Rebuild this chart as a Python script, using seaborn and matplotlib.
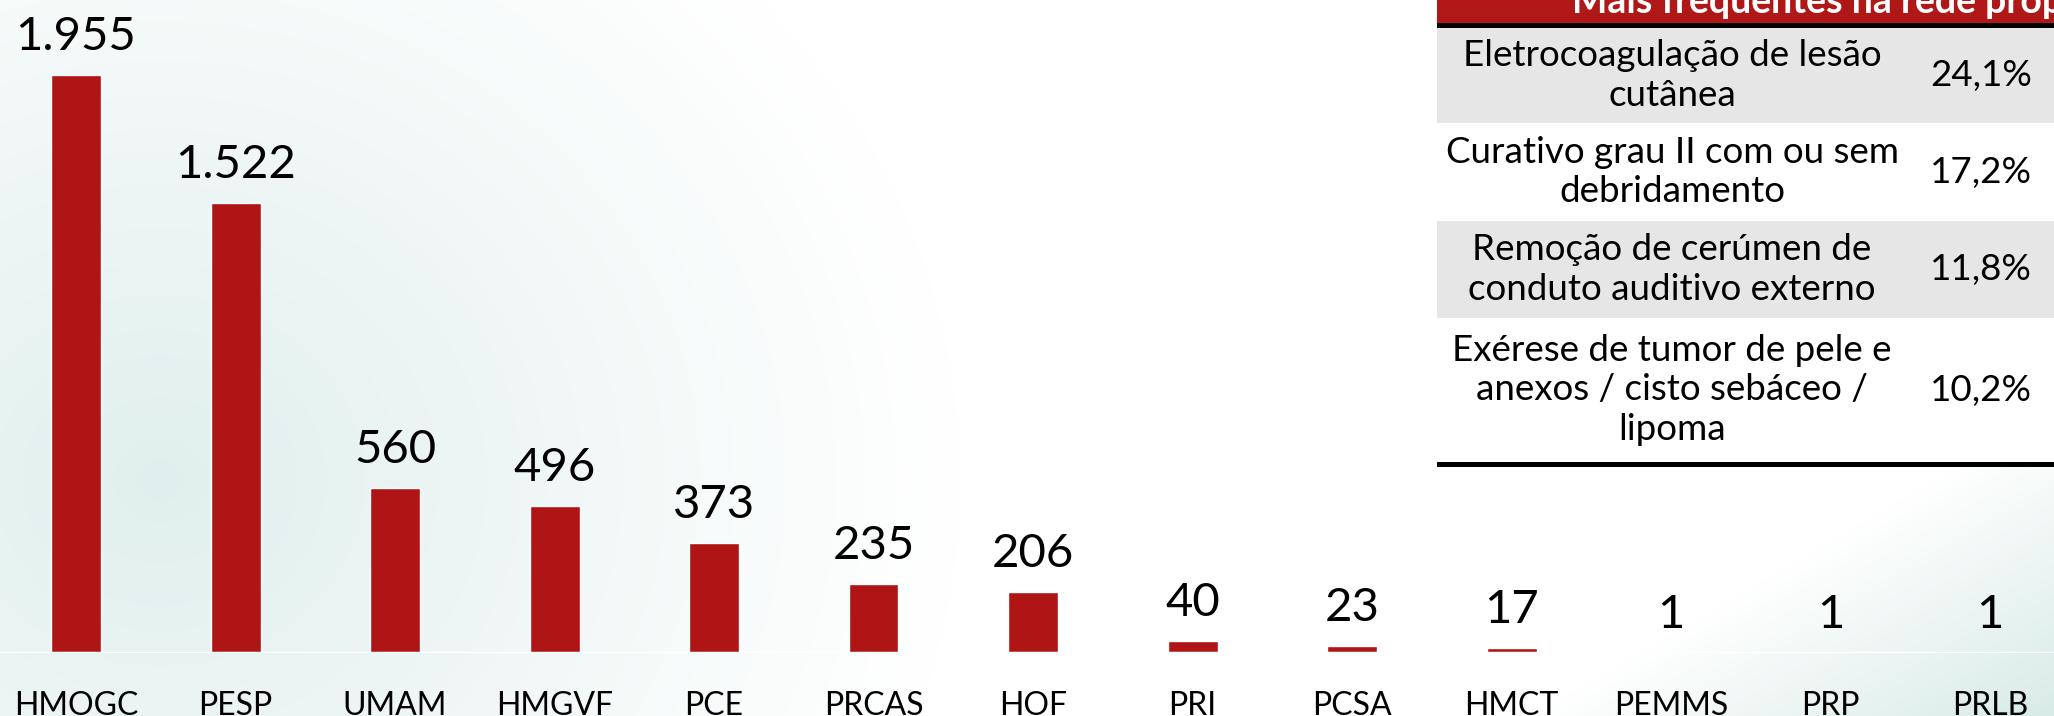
import matplotlib.pyplot as plt
import numpy as np
import seaborn as sns
from matplotlib.patches import Rectangle

# data
unidades = ['HMOGC', 'PESP', 'UMAM', 'HMGVF', 'PCE', 'PRCAS', 'HOF',
            'PRI', 'PCSA', 'HMCT', 'PEMMS', 'PRP', 'PRLB']
procedimentos = [1955, 1522, 560, 496, 373, 235, 206, 40, 23, 17, 1, 1, 1]

titulo_tabela = 'Mais frequentes na rede própria'
tabela_proc = ['Eletrocoagulação de lesão\ncutânea',
               'Curativo grau II com ou sem\ndebridamento',
               'Remoção de cerúmen de\nconduto auditivo externo',
               'Exérese de tumor de pele e\nanexos / cisto sebáceo /\nlipoma']
tabela_pct = ['24,1%', '17,2%', '11,8%', '10,2%']

RED = '#AF1515'
GRAY = '#E6E6E6'

sns.set_theme(style='white')
plt.rcParams['font.family'] = ['Lato', 'DejaVu Sans']

W, H = 2054, 716
fig = plt.figure(figsize=(W / 100, H / 100), dpi=100)

# background: soft teal glow (slide background)
yy, xx = np.mgrid[0:H, 0:W]
img = np.ones((H, W, 3))
d = np.hypot(xx - 160, (yy - 480) * 1.1)
t1 = np.clip(1 - d / 800, 0, 1) ** 1.1
u = (xx - 1650) / 404 + (yy - 480) / 236
t2 = np.clip((u - 0.7) / 1.3, 0, 1)
c1 = np.array([224, 239, 237]) / 255
c2 = np.array([216, 235, 231]) / 255
for k in range(3):
    img[..., k] = img[..., k] * (1 - t1) + c1[k] * t1
    img[..., k] = img[..., k] * (1 - t2) + c2[k] * t2
bg = fig.add_axes([0, 0, 1, 1], zorder=0)
bg.imshow(img, extent=[0, W, H, 0], aspect='auto')
bg.axis('off')

# bar chart
base = 653
scale = 0.2955  # px per unit
ax = fig.add_axes([0, (H - base) / H, 1, base / H], zorder=1)
ax.patch.set_alpha(0)
sns.barplot(x=unidades, y=procedimentos, color=RED, saturation=1,
            width=50 / 159.5, ax=ax)
ax.set_xlim(-76 / 159.5, (W - 76) / 159.5)
ax.set_ylim(0, base / scale)
ax.axhline(0, color='white', lw=2.5)
for s in ax.spines.values():
    s.set_visible(False)
ax.set_yticks([])
ax.set_xlabel('')
ax.set_ylabel('')
ax.tick_params(axis='x', length=0, pad=44.6, labelsize=23, colors='black')
for lbl in ax.get_xticklabels():
    lbl.set_va('baseline')

for p, v in zip(ax.patches, procedimentos):
    ax.annotate(f'{v:,}'.replace(',', '.'),
                (p.get_x() + p.get_width() / 2, p.get_height()),
                xytext=(0, 18), textcoords='offset points',
                ha='center', va='baseline', fontsize=34, color='black')

# table (figure pixel coords)
tab = fig.add_axes([0, 0, 1, 1], zorder=3)
tab.set_xlim(0, W)
tab.set_ylim(H, 0)
tab.axis('off')
tx0 = 1437
edges = [28, 123, 221, 318, 462]
tab.add_patch(Rectangle((tx0, 0), W - tx0, 23, color='#B01717', lw=0))
tab.add_patch(Rectangle((tx0, 23), W - tx0, 5, color='black', lw=0))
tab.text(1572, 13, titulo_tabela, color='white', fontsize=27,
         fontweight='bold', ha='left', va='baseline')
for i, (txt, pct) in enumerate(zip(tabela_proc, tabela_pct)):
    y0, y1 = edges[i], edges[i + 1]
    fc = GRAY if i % 2 == 0 else 'white'
    tab.add_patch(Rectangle((tx0, y0), W - tx0, y1 - y0, color=fc, lw=0))
    yc = (y0 + y1) / 2
    tab.text(1672, yc, txt, ha='center', va='center', fontsize=26.5,
             linespacing=1.25, color='black')
    tab.text(1981, yc, pct, ha='center', va='center', fontsize=26.5,
             color='black')
tab.add_patch(Rectangle((tx0, 462), W - tx0, 5, color='black', lw=0))

fig.savefig('out.png', dpi=100)
